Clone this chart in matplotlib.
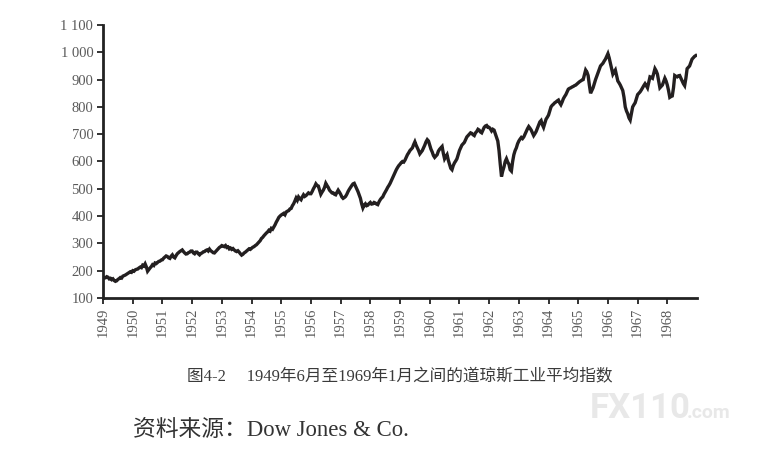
"""Dow Jones Industrial Average, 1949-1968 (figure 4-2 reproduction)."""
import numpy as np
import matplotlib
matplotlib.use('Agg')
import matplotlib.pyplot as plt

# semi-monthly readings of the index, one row per year (24 values each)
djia_rows = [
    [177, 173, 174, 178, 176, 170, 172, 167, 170, 164, 161, 163, 168, 171, 175, 173, 180, 182, 184, 187, 190, 193, 196, 194],  # 1949
    [200, 198, 203, 205, 206, 210, 213, 211, 220, 217, 225, 214, 198, 204, 210, 215, 222, 219, 228, 226, 230, 234, 235, 239],  # 1950
    [240, 246, 250, 254, 252, 247, 245, 253, 258, 250, 247, 255, 262, 266, 270, 273, 276, 270, 265, 261, 262, 266, 268, 272],  # 1951
    [272, 265, 262, 268, 268, 262, 258, 263, 265, 269, 270, 274, 276, 272, 279, 273, 270, 266, 265, 270, 275, 280, 285, 288],  # 1952
    [292, 290, 288, 292, 285, 287, 280, 283, 278, 281, 276, 272, 270, 273, 268, 262, 257, 260, 265, 268, 272, 276, 280, 278],  # 1953
    [282, 286, 288, 292, 295, 300, 305, 310, 318, 322, 328, 333, 338, 342, 348, 345, 355, 352, 360, 368, 378, 386, 395, 400],  # 1954
    [404, 407, 410, 405, 415, 418, 420, 426, 428, 438, 445, 455, 466, 458, 470, 464, 460, 470, 478, 472, 475, 480, 485, 482],  # 1955
    [482, 490, 500, 508, 518, 512, 510, 495, 480, 488, 495, 505, 520, 512, 505, 495, 490, 485, 485, 480, 478, 487, 495, 488],  # 1956
    [480, 470, 465, 468, 472, 480, 490, 498, 505, 512, 518, 520, 510, 500, 490, 478, 465, 445, 430, 440, 445, 438, 440, 446],  # 1957
    [450, 444, 445, 450, 448, 444, 442, 452, 460, 466, 470, 480, 488, 496, 505, 512, 520, 530, 540, 550, 560, 570, 578, 585],  # 1958
    [590, 596, 600, 598, 605, 615, 625, 632, 640, 645, 650, 662, 672, 660, 650, 640, 628, 634, 640, 650, 660, 672, 680, 675],  # 1959
    [660, 645, 635, 622, 615, 620, 625, 638, 645, 650, 655, 630, 610, 618, 625, 605, 590, 575, 570, 585, 595, 602, 610, 625],  # 1960
    [640, 650, 660, 665, 670, 680, 690, 695, 700, 705, 703, 698, 695, 705, 710, 718, 715, 708, 705, 715, 725, 730, 732, 725],  # 1961
    [725, 720, 712, 718, 715, 702, 690, 675, 640, 590, 545, 565, 580, 600, 610, 598, 590, 570, 565, 600, 625, 640, 650, 665],  # 1962
    [675, 682, 688, 684, 690, 700, 710, 720, 728, 722, 715, 705, 695, 702, 710, 722, 735, 745, 750, 735, 725, 740, 755, 762],  # 1963
    [770, 785, 800, 806, 810, 815, 818, 822, 825, 815, 808, 818, 830, 838, 845, 855, 865, 868, 870, 873, 875, 878, 880, 884],  # 1964
    [888, 892, 895, 898, 900, 918, 935, 928, 915, 880, 850, 860, 870, 885, 900, 912, 925, 938, 950, 955, 960, 968, 975, 985],  # 1965
    [995, 980, 960, 940, 920, 928, 935, 915, 895, 888, 880, 870, 860, 835, 800, 785, 775, 760, 752, 775, 800, 808, 815, 830],  # 1966
    [845, 850, 855, 862, 870, 878, 885, 878, 870, 890, 910, 908, 905, 922, 940, 932, 920, 895, 870, 875, 880, 892, 905, 895],  # 1967
    [880, 860, 835, 838, 840, 870, 915, 912, 910, 914, 915, 905, 895, 885, 878, 905, 940, 945, 950, 962, 975, 980, 985, 988],  # 1968
]
first_year = 1949
year_ticks = list(range(1949, 1969))
y_ticks = [100, 200, 300, 400, 500, 600, 700, 800, 900, 1000, 1100]
y_tick_labels = ['100', '200', '300', '400', '500', '600', '700', '800', '900', '1 000', '1 100']

caption = '图4-2\u2003 1949年6月至1969年1月之间的道琼斯工业平均指数'
source = '资料来源：Dow Jones & Co.'

values = np.array([v for row in djia_rows for v in row], dtype=float)
dates = first_year + np.arange(len(values)) / 24.0

serif = ['Liberation Serif', 'Noto Sans CJK SC', 'DejaVu Sans']
tick_grey = '#5a5a5a'

fig = plt.figure(figsize=(7.73, 4.59), dpi=100)
ax = fig.add_axes([0.1333, 0.3508, 0.7684, 0.5947])
ax.plot(dates, values, color='#231f20', lw=2.4, solid_joinstyle='miter')

ax.set_xlim(1949, 1969)
ax.set_ylim(100, 1100)
ax.set_xticks(year_ticks)
ax.set_xticklabels([str(y) for y in year_ticks], rotation=90,
                   family=serif, fontsize=10.5, color=tick_grey)
ax.set_yticks(y_ticks)
ax.set_yticklabels(y_tick_labels, family=serif, fontsize=10.5, color=tick_grey)
ax.tick_params(axis='both', direction='out', length=4, width=1.3,
               color='#222222', pad=3)

for side in ('top', 'right'):
    ax.spines[side].set_visible(False)
for side in ('left', 'bottom'):
    ax.spines[side].set_linewidth(2.0)
    ax.spines[side].set_color('#222222')

fig.text(0.5175, 0.1786, caption, ha='center', va='center',
         family=serif, fontsize=12, color='#3a3a3a')
fig.text(0.172, 0.063, source, ha='left', va='center',
         family=serif, fontsize=16.4, color='#333333')
# faint site watermark in the corner
fig.text(0.763, 0.0893, 'FX110', ha='left', va='baseline', fontsize=25,
         weight='bold', family=['Roboto', 'DejaVu Sans'], color='#e8e8e8')
fig.text(0.889, 0.0893, '.com', ha='left', va='baseline', fontsize=14,
         weight='bold', family=['Roboto', 'DejaVu Sans'], color='#e8e8e8')

fig.savefig('out.png', dpi=100)
plt.close(fig)
